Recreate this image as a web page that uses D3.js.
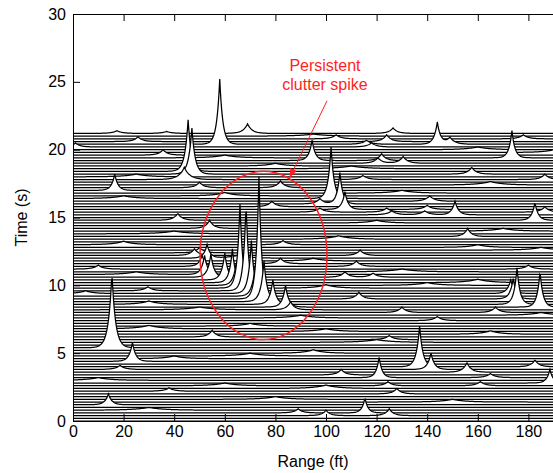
<!DOCTYPE html>
<html lang="en">
<head>
<meta charset="utf-8">
<title>Range-time waterfall</title>
<script src="https://cdn.jsdelivr.net/npm/d3@7"></script>
<style>
    body { margin: 0; background: #fff; }
    svg { font-family: "Liberation Sans", Arial, sans-serif; }
    .trace-fill { fill: #fff; stroke: none; }
    .trace-line { fill: none; stroke: #000; stroke-width: 1.25; }
    .axis path, .axis line { stroke: #000; stroke-width: 1; }
    .axis text { font-size: 16px; fill: #000; }
    .note { fill: #ff1f1f; font-size: 16px; }
</style>
</head>
<body>
<div id="chart"></div>
<script>
// one trace every 0.2 s, from 0 to 21.2 s
var traceStep = 0.2;
var traceCount = 107;

var xTicks = [0, 20, 40, 60, 80, 100, 120, 140, 160, 180];
var yTicks = [0, 5, 10, 15, 20, 25, 30];

// [time of trace (s), range (ft), height (s), half width (ft)]
var bigSpikes = [
    [20.4, 58, 4.8, 1.2],
    [18.4, 45.5, 3.8, 1.3],
    [18.2, 47, 3.4, 1.3],
    [17.8, 44, 0.9, 2.2],
    [19.2, 94.5, 1.5, 1.3],
    [16.4, 102, 3.8, 1.2],
    [16.0, 105.5, 2.3, 1.2],
    [15.6, 107.5, 1.3, 1.3],
    [20.4, 144, 1.6, 1.3],
    [19.4, 173.5, 2.0, 1.2],
    [17.0, 16.5, 1.2, 1.3],
    [15.2, 151, 1.0, 1.4],
    [14.8, 182.6, 1.3, 1.3],
    [5.4, 15.4, 5.5, 1.4],
    [4.4, 23.5, 1.4, 1.3],
    [1.2, 14, 0.8, 1.4],
    [4.0, 137, 3.0, 1.3],
    [3.8, 141.5, 1.2, 1.4],
    [3.2, 121, 1.5, 1.2],
    [0.6, 115.4, 1.1, 1.2],
    [8.6, 175.5, 2.7, 1.2],
    [9.0, 174, 1.5, 1.3],
    [9.4, 173, 1.0, 1.4],
    [8.4, 184.6, 2.6, 1.2],
    [2.8, 188.5, 1.0, 1.3]
];

// the persistent clutter spike, drifting in range over successive traces
var clutterSpike = [
    [12.0, 53, 1.0, 1.3],
    [11.4, 51, 0.8, 1.4],
    [10.8, 52, 1.4, 1.3],
    [10.6, 54.5, 1.7, 1.3],
    [10.4, 60, 2.0, 1.3],
    [10.2, 63, 2.5, 1.2],
    [10.0, 64.5, 1.6, 1.3],
    [9.8, 66, 6.2, 1.1],
    [9.6, 68.4, 6.4, 1.1],
    [9.4, 70.5, 3.9, 1.2],
    [9.2, 72, 2.2, 1.3],
    [9.0, 73.5, 9.0, 1.1],
    [8.8, 75.5, 3.0, 1.3],
    [8.6, 79, 1.8, 1.3],
    [8.4, 84, 1.6, 1.3],
    [8.2, 86, 0.6, 1.6]
];

var smallBumps = [
    [14.8, 41.4, 0.5, 1.8], [14.2, 54, 0.6, 1.7], [12.2, 48, 0.5, 1.8], [12.4, 50, 0.4, 1.8],
    [11.2, 10, 0.3, 2], [9.6, 29.6, 0.3, 2], [6.2, 55, 0.5, 1.7], [3.8, 18.6, 0.3, 2],
    [2.2, 38, 0.25, 2], [0.4, 100, 0.4, 1.6], [0.6, 89, 0.3, 1.8], [0.4, 125, 0.5, 1.7],
    [2.0, 128, 0.4, 1.8], [2.6, 124.5, 0.3, 1.8], [3.2, 165, 0.3, 2], [2.6, 161, 0.3, 2],
    [3.4, 106, 0.4, 1.8], [6.0, 125, 0.3, 2], [3.6, 155.7, 0.7, 1.7], [4.0, 182.6, 0.5, 1.7],
    [21.2, 69, 0.7, 1.8], [21.2, 126.5, 0.4, 1.8], [20.6, 124, 0.5, 1.8], [20.4, 149, 0.5, 2],
    [20.8, 178, 0.3, 2], [20.2, 118, 0.3, 2], [19.2, 122, 0.5, 1.7], [19.0, 130.5, 0.5, 1.8],
    [18.2, 157.6, 0.5, 1.8], [17.8, 186.5, 0.4, 1.8], [17.8, 114.6, 0.3, 2], [16.2, 141, 0.4, 2],
    [21.2, 17.4, 0.2, 2], [20.6, 25.7, 0.35, 1.8], [21.2, 37, 0.15, 2], [19.6, 35.6, 0.4, 1.8],
    [20.2, 1, 0.3, 1.8], [20.8, 104, 0.3, 2], [20.4, 116, 0.3, 2], [17.2, 82, 0.5, 1.8],
    [16.0, 97.6, 0.4, 1.8], [17.2, 50, 0.4, 1.8], [15.8, 78.6, 0.4, 1.8], [13.0, 83, 0.3, 2],
    [11.6, 82, 0.4, 1.8], [11.4, 112, 0.4, 1.8], [10.6, 107.5, 0.4, 1.8], [10.6, 118.6, 0.3, 2],
    [9.0, 113, 0.5, 1.7], [8.0, 130, 0.4, 1.8], [7.4, 144, 0.3, 2], [12.2, 113.5, 0.4, 1.8],
    [15.4, 97.6, 0.3, 2], [15.4, 124, 0.3, 2], [15.2, 139, 0.3, 2], [19.0, 120.5, 0.4, 1.8],
    [15.6, 140, 0.3, 2], [15.2, 126, 0.3, 2], [15.4, 186.5, 0.4, 1.8], [11.2, 180, 0.3, 2],
    [8.0, 167, 0.4, 1.8], [13.6, 156, 0.6, 1.6]
];

// low, wide swells that make the traces wander
var swells = [
    [7.0, 70, 0.2, 4], [5.0, 95, 0.25, 4], [2.6, 60, 0.2, 5], [13.0, 20, 0.25, 4],
    [16.6, 60, 0.25, 4], [10.0, 140, 0.2, 5], [6.4, 165, 0.25, 4], [12.8, 160, 0.2, 4],
    [18.8, 80, 0.2, 4], [4.6, 40, 0.2, 4], [8.6, 30, 0.25, 4], [14.6, 120, 0.2, 4],
    [1.6, 80, 0.2, 5], [19.8, 190, 0.2, 4], [11.8, 95, 0.2, 4], [9.4, 5, 0.2, 3],
    [0.8, 30, 0.2, 6], [1.4, 150, 0.2, 5], [2.4, 100, 0.25, 5], [3.0, 10, 0.2, 5],
    [5.8, 120, 0.2, 6], [6.8, 30, 0.25, 5], [7.6, 90, 0.2, 5], [7.8, 185, 0.2, 5],
    [8.2, 50, 0.2, 6], [10.2, 160, 0.25, 5], [10.8, 25, 0.2, 5], [11.0, 130, 0.2, 6],
    [12.0, 65, 0.2, 5], [12.6, 185, 0.2, 5], [13.4, 105, 0.25, 5], [13.8, 40, 0.2, 6],
    [14.0, 170, 0.2, 5], [16.8, 130, 0.2, 5], [17.4, 165, 0.25, 5], [18.0, 25, 0.2, 5],
    [18.6, 110, 0.2, 6], [19.4, 60, 0.2, 5], [20.0, 160, 0.2, 5], [21.0, 95, 0.15, 6],
    [4.8, 70, 0.2, 5], [6.6, 100, 0.2, 5], [9.8, 100, 0.25, 4], [16.4, 20, 0.2, 5]
];

var width = 553, height = 473;
var plotLeft = 73, plotTop = 14, plotBottom = 421;

var x = d3.scaleLinear().domain([0, 200]).range([plotLeft, 579]);
var y = d3.scaleLinear().domain([0, 30]).range([plotBottom, plotTop]);

var svg = d3.select("#chart")
    .append("svg")
        .attr("width", width)
        .attr("height", height);

var defs = svg.append("defs");
defs.append("clipPath")
        .attr("id", "plotClip")
    .append("rect")
        .attr("x", plotLeft)
        .attr("y", plotTop)
        .attr("width", 579 - plotLeft)
        .attr("height", plotBottom - plotTop);
defs.append("marker")
        .attr("id", "arrowHead")
        .attr("viewBox", "0 0 10 10")
        .attr("refX", 9)
        .attr("refY", 5)
        .attr("markerWidth", 9)
        .attr("markerHeight", 9)
        .attr("markerUnits", "userSpaceOnUse")
        .attr("orient", "auto")
    .append("path")
        .attr("d", "M0,1 L10,5 L0,9 Z")
        .attr("fill", "#ff1f1f");

// group every peak under the trace it belongs to
var allPeaks = bigSpikes.concat(clutterSpike, smallBumps, swells);
var traces = d3.range(traceCount).map(function(i) {
    return { t: i * traceStep, peaks: [] };
});
allPeaks.forEach(function(p) {
    var i = Math.round(p[0] / traceStep);
    if (i >= 0 && i < traceCount) traces[i].peaks.push(p);
});

var ranges = d3.range(0, 200.01, 0.25);
traces.forEach(function(tr) {
    tr.points = ranges.map(function(r) {
        var v = 0;
        tr.peaks.forEach(function(p) {
            v += p[2] * Math.exp(-Math.abs(r - p[1]) / p[3]);
        });
        return [r, tr.t + v];
    });
});

var area = d3.area()
    .x(function(d) { return x(d[0]); })
    .y0(plotBottom)
    .y1(function(d) { return y(d[1]); });
var line = d3.line()
    .x(function(d) { return x(d[0]); })
    .y(function(d) { return y(d[1]); });

var plot = svg.append("g").attr("clip-path", "url(#plotClip)");

// back traces first so front ones hide them
var traceG = plot.selectAll(".trace")
    .data(traces.slice().reverse())
    .enter()
    .append("g")
        .attr("class", "trace");
traceG.append("path")
    .attr("class", "trace-fill")
    .attr("d", function(d) { return area(d.points); });
traceG.append("path")
    .attr("class", "trace-line")
    .attr("d", function(d) { return line(d.points); });

// axes, ticks pointing inwards
svg.append("g")
    .attr("class", "axis")
    .attr("transform", "translate(0," + plotBottom + ")")
    .call(d3.axisBottom(x).tickValues(xTicks).tickSizeInner(-7).tickSizeOuter(0).tickPadding(5));
svg.append("g")
    .attr("class", "axis")
    .attr("transform", "translate(0," + plotTop + ")")
    .call(d3.axisTop(x).tickValues(xTicks).tickSizeInner(-7).tickSizeOuter(0).tickFormat(""));
svg.append("g")
    .attr("class", "axis")
    .attr("transform", "translate(" + plotLeft + ",0)")
    .call(d3.axisLeft(y).tickValues(yTicks).tickSizeInner(-7).tickSizeOuter(0).tickPadding(7));

svg.append("text")
    .attr("x", 313)
    .attr("y", 467)
    .attr("text-anchor", "middle")
    .style("font-size", "16px")
    .text("Range (ft)");
svg.append("text")
    .attr("transform", "translate(27," + ((plotTop + plotBottom) / 2) + ") rotate(-90)")
    .attr("text-anchor", "middle")
    .style("font-size", "16px")
    .text("Time (s)");

// annotation
svg.append("ellipse")
    .attr("cx", x(75.3))
    .attr("cy", y(12.2))
    .attr("rx", x(100.4) - x(75.3))
    .attr("ry", y(6.0) - y(12.2))
    .attr("fill", "none")
    .attr("stroke", "#ff1f1f")
    .attr("stroke-width", 1.5);
svg.append("line")
    .attr("x1", x(100.4))
    .attr("y1", y(23.6))
    .attr("x2", x(85.8))
    .attr("y2", y(18.0))
    .attr("stroke", "#ff1f1f")
    .attr("stroke-width", 1)
    .attr("marker-end", "url(#arrowHead)");
svg.append("text")
    .attr("class", "note")
    .attr("x", x(99.6))
    .attr("y", y(25.8))
    .attr("text-anchor", "middle")
    .text("Persistent");
svg.append("text")
    .attr("class", "note")
    .attr("x", x(99.6))
    .attr("y", y(24.4))
    .attr("text-anchor", "middle")
    .text("clutter spike");
</script>
</body>
</html>
